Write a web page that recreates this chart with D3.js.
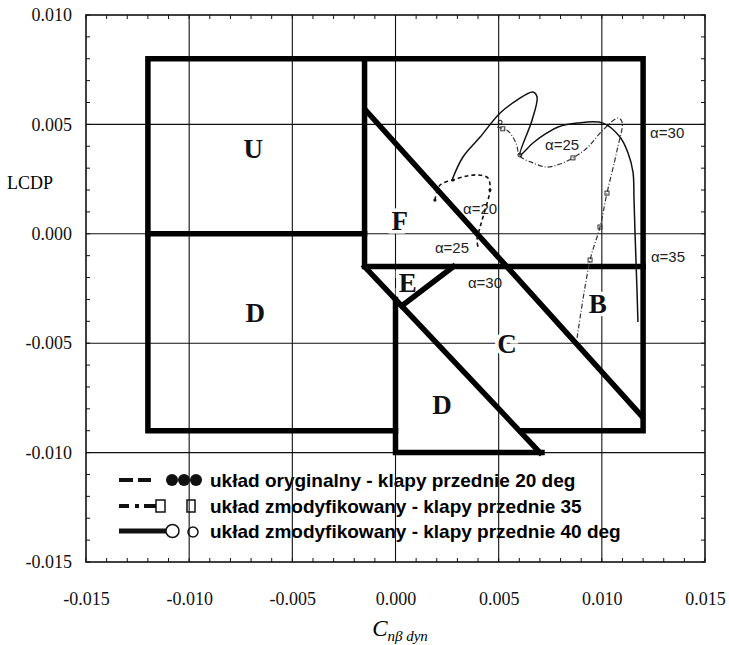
<!DOCTYPE html>
<html>
<head>
<meta charset="utf-8">
<script src="https://cdn.jsdelivr.net/npm/d3@7"></script>
<style>
  body { margin: 0; background: #fff; }
  svg { display: block; }
  .tick text { font-family: "Liberation Serif", "Times New Roman", serif; font-size: 18px; fill: #111; }
</style>
</head>
<body>
<div id="wrapper"></div>
<script>
// axes
const xTicks = [-0.015, -0.010, -0.005, 0.000, 0.005, 0.010, 0.015];
const yTicks = [-0.015, -0.010, -0.005, 0.000, 0.005, 0.010];

// thick zone borders (C_nb dyn, LCDP)
const zoneLines = [
  [[0.000, -0.009], [-0.012, -0.009], [-0.012, 0.008], [0.012, 0.008], [0.012, -0.009], [0.0061, -0.009]],
  [[-0.012, 0.000], [-0.0015, 0.000]],
  [[-0.0015, 0.008], [-0.0015, -0.0015], [0.012, -0.0015]],
  [[-0.0015, -0.0015], [0.0070, -0.0100]],
  [[0.000, -0.0030], [0.000, -0.0100], [0.0071, -0.0100]],
  [[0.0003, -0.0033], [0.0028, -0.0015]],
  [[-0.0014, 0.0056], [0.0119, -0.0083]]
];

const zoneLabels = [
  { t: 'U', x: -0.0069, y: 0.0039 },
  { t: 'D', x: -0.0068, y: -0.0036 },
  { t: 'F', x: 0.0002, y: 0.0006 },
  { t: 'E', x: 0.0006, y: -0.00225 },
  { t: 'C', x: 0.0054, y: -0.0050 },
  { t: 'B', x: 0.0098, y: -0.0032 },
  { t: 'D', x: 0.00225, y: -0.0078 }
];

const alphaLabels = [
  { t: 'α=30', x: 0.01234, y: 0.00461 },
  { t: 'α=35', x: 0.01238, y: -0.00106 },
  { t: 'α=25', x: 0.00725, y: 0.00406 },
  { t: 'α=20', x: 0.00327, y: 0.00113 },
  { t: 'α=25', x: 0.00191, y: -0.00065 },
  { t: 'α=30', x: 0.00351, y: -0.00225 }
];

// serie: uklad oryginalny - klapy przednie 20 deg
const orig20 = [
  [0.00191, 0.00154], [0.00216, 0.00223], [0.00279, 0.00246], [0.00347, 0.00264],
  [0.00400, 0.00269], [0.00448, 0.00255], [0.00458, 0.00200], [0.00434, 0.00109],
  [0.00410, 0.00031], [0.00395, -0.00028], [0.00400, -0.00060]
];
// uklad zmodyfikowany - klapy przednie 35
const mod35 = [
  [0.00492, 0.00488], [0.00545, 0.00470], [0.00584, 0.00415], [0.00603, 0.00356],
  [0.00666, 0.00324], [0.00734, 0.00305], [0.00797, 0.00319], [0.00860, 0.00347],
  [0.00928, 0.00392], [0.01006, 0.00475], [0.01078, 0.00529], [0.01098, 0.00511],
  [0.01074, 0.00383], [0.01025, 0.00186], [0.00991, 0.00031], [0.00943, -0.00120],
  [0.00880, -0.00476]
];
// uklad zmodyfikowany - klapy przednie 40 deg
const mod40 = [
  [0.00274, 0.00246], [0.00327, 0.00351], [0.00410, 0.00442], [0.00507, 0.00552],
  [0.00589, 0.00611], [0.00666, 0.00648], [0.00686, 0.00625], [0.00662, 0.00520],
  [0.00603, 0.00360], [0.00666, 0.00415], [0.00734, 0.00461], [0.00788, 0.00488],
  [0.00880, 0.00506], [0.01006, 0.00506], [0.01088, 0.00442], [0.01127, 0.00369],
  [0.01151, 0.00282], [0.01156, 0.00154], [0.01161, 0.00000], [0.01170, -0.00247],
  [0.01175, -0.00403]
];

// kleine markers op de lijnen
const orig20Marks = [[0.00191, 0.00154], [0.00279, 0.00246], [0.00458, 0.00200]];
const mod35Marks = [[0.00520, 0.00480], [0.00860, 0.00347], [0.01025, 0.00186], [0.00991, 0.00031], [0.00943, -0.00120]];
const mod40Marks = [[0.00507, 0.00510], [0.00603, 0.00360]];

const legendItems = [
  'układ oryginalny - klapy przednie 20 deg',
  'układ zmodyfikowany - klapy przednie 35',
  'układ zmodyfikowany - klapy przednie 40 deg'
];

const W = 729, H = 645;
const margin = { top: 15, right: 24, bottom: 83, left: 86 };

const svg = d3.select('#wrapper').append('svg')
  .attr('width', W).attr('height', H);

const x = d3.scaleLinear().domain([-0.015, 0.015]).range([margin.left, W - margin.right]);
const y = d3.scaleLinear().domain([-0.015, 0.010]).range([H - margin.bottom, margin.top]);

const fmt = d => d.toFixed(3);

// legenda eerst, gridlijnen lopen eroverheen
const lg = svg.append('g').attr('font-family', '"Liberation Sans", Arial, sans-serif')
  .attr('font-weight', 'bold').attr('font-size', 19);
const rowY = [480, 506, 531];
lg.selectAll('text').data(legendItems).join('text')
  .attr('x', 210).attr('y', (d, i) => rowY[i]).attr('dy', '0.35em').text(d => d);

// rij 1: streep + bolletjes
lg.append('path').attr('d', `M119,${rowY[0]}H133M138,${rowY[0]}H151`).attr('stroke', '#111').attr('stroke-width', 4);
[172, 184, 196].forEach(cx => lg.append('circle').attr('cx', cx).attr('cy', rowY[0]).attr('r', 6).attr('fill', '#111'));
// rij 2: streep-punt + vierkantjes
lg.append('path').attr('d', `M119,${rowY[1]}H129M135,${rowY[1]}H139M144,${rowY[1]}H156`).attr('stroke', '#111').attr('stroke-width', 4);
[[156, 9], [187, 8]].forEach(([sx, w]) => lg.append('rect').attr('x', sx).attr('y', rowY[1] - 6).attr('width', w).attr('height', 12)
  .attr('fill', 'none').attr('stroke', '#111').attr('stroke-width', 1.5));
// rij 3: lijn + rondjes
lg.append('path').attr('d', `M119,${rowY[2]}H166`).attr('stroke', '#111').attr('stroke-width', 5);
lg.append('circle').attr('cx', 172.5).attr('cy', rowY[2]).attr('r', 6.5).attr('fill', 'none').attr('stroke', '#111').attr('stroke-width', 1.5);
lg.append('circle').attr('cx', 193).attr('cy', rowY[2] + 1).attr('r', 5).attr('fill', 'none').attr('stroke', '#111').attr('stroke-width', 1.5);

// gridlijnen
const grid = svg.append('g').attr('stroke', '#111').attr('stroke-width', 1.1);
grid.selectAll('.gx').data(xTicks.slice(1, -1)).join('line')
  .attr('x1', d => x(d)).attr('x2', d => x(d)).attr('y1', y.range()[0]).attr('y2', y.range()[1]);
grid.selectAll('.gy').data(yTicks.slice(1, -1)).join('line')
  .attr('y1', d => y(d)).attr('y2', d => y(d)).attr('x1', x.range()[0]).attr('x2', x.range()[1]);

// kleine tickjes naar binnen
const minorX = x.ticks(30), minorY = y.ticks(25);
const mt = svg.append('g').attr('stroke', '#111').attr('stroke-width', 1);
minorX.forEach(v => {
  mt.append('line').attr('x1', x(v)).attr('x2', x(v)).attr('y1', y.range()[1]).attr('y2', y.range()[1] + 4);
  mt.append('line').attr('x1', x(v)).attr('x2', x(v)).attr('y1', y.range()[0]).attr('y2', y.range()[0] - 4);
});
minorY.forEach(v => {
  mt.append('line').attr('y1', y(v)).attr('y2', y(v)).attr('x1', x.range()[0]).attr('x2', x.range()[0] + 4);
  mt.append('line').attr('y1', y(v)).attr('y2', y(v)).attr('x1', x.range()[1]).attr('x2', x.range()[1] - 4);
});

// assen (alleen labels)
const xaxis = d3.axisBottom(x).tickValues(xTicks).tickFormat(fmt).tickSize(0).tickPadding(30);
svg.append('g').attr('transform', `translate(0,${y.range()[0]})`).call(xaxis)
  .call(g => g.select('.domain').remove());
const yaxis = d3.axisLeft(y).tickValues(yTicks).tickFormat(fmt).tickSize(0).tickPadding(14);
svg.append('g').attr('transform', `translate(${x.range()[0]},0)`).call(yaxis)
  .call(g => g.select('.domain').remove());

// kader
svg.append('rect').attr('x', x.range()[0]).attr('y', y.range()[1])
  .attr('width', x.range()[1] - x.range()[0]).attr('height', y.range()[0] - y.range()[1])
  .attr('fill', 'none').attr('stroke', '#111').attr('stroke-width', 1.6);

// as titels
svg.append('text').attr('x', 7).attr('y', 183).attr('dy', '0.35em')
  .attr('font-family', '"Liberation Serif", serif').attr('font-size', 18).text('LCDP');
const xt = svg.append('text').attr('x', 400).attr('y', 636).attr('text-anchor', 'middle')
  .attr('font-family', '"Liberation Serif", serif').attr('font-style', 'italic');
xt.append('tspan').attr('font-size', 23).text('C');
xt.append('tspan').attr('font-size', 15).attr('dy', 5).text('nβ dyn');

// zone letters met witte rand
svg.append('g').selectAll('text').data(zoneLabels).join('text')
  .attr('x', d => x(d.x)).attr('y', d => y(d.y)).attr('dy', '0.35em').attr('text-anchor', 'middle')
  .attr('font-family', '"Liberation Serif", serif').attr('font-weight', 'bold').attr('font-size', 27)
  .attr('stroke', '#fff').attr('stroke-width', 7).attr('paint-order', 'stroke').attr('fill', '#111')
  .text(d => d.t);

// dikke zone lijnen
const line = d3.line().x(d => x(d[0])).y(d => y(d[1]));
svg.append('g').selectAll('path').data(zoneLines).join('path')
  .attr('d', line).attr('fill', 'none').attr('stroke', '#000')
  .attr('stroke-width', 5.5).attr('stroke-linejoin', 'miter').attr('stroke-linecap', 'square');

// alfa labels
svg.append('g').selectAll('text').data(alphaLabels).join('text')
  .attr('x', d => x(d.x)).attr('y', d => y(d.y)).attr('dy', '0.35em')
  .attr('font-family', '"Liberation Sans", Arial, sans-serif').attr('font-size', 15).attr('fill', '#222')
  .text(d => d.t);

// curves
const curve = d3.line().x(d => x(d[0])).y(d => y(d[1])).curve(d3.curveCatmullRom.alpha(0.5));
svg.append('path').datum(orig20).attr('d', curve).attr('fill', 'none')
  .attr('stroke', '#111').attr('stroke-width', 1.6).attr('stroke-dasharray', '4,3');
svg.append('path').datum(mod35).attr('d', curve).attr('fill', 'none')
  .attr('stroke', '#333').attr('stroke-width', 1.2).attr('stroke-dasharray', '5,2,1,2');
svg.append('path').datum(mod40).attr('d', curve).attr('fill', 'none')
  .attr('stroke', '#111').attr('stroke-width', 1.5);

svg.append('g').selectAll('circle').data(orig20Marks).join('circle')
  .attr('cx', d => x(d[0])).attr('cy', d => y(d[1])).attr('r', 1.6).attr('fill', '#111');
svg.append('g').selectAll('rect').data(mod35Marks).join('rect')
  .attr('x', d => x(d[0]) - 2).attr('y', d => y(d[1]) - 2).attr('width', 4).attr('height', 4)
  .attr('fill', 'none').attr('stroke', '#333').attr('stroke-width', 1);
svg.append('g').selectAll('.m40').data(mod40Marks).join('circle')
  .attr('cx', d => x(d[0])).attr('cy', d => y(d[1])).attr('r', 2).attr('fill', 'none')
  .attr('stroke', '#111').attr('stroke-width', 1);
</script>
</body>
</html>
